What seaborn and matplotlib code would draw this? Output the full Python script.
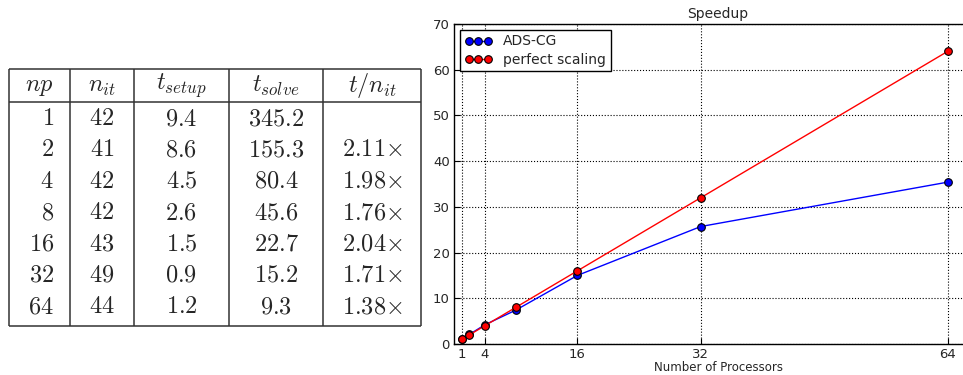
import matplotlib
matplotlib.use('Agg')
import matplotlib.pyplot as plt
import seaborn as sns

# Table data
table_header = [r'$np$', r'$n_{it}$', r'$t_{setup}$', r'$t_{solve}$', r'$t/n_{it}$']
col_np = ['1', '2', '4', '8', '16', '32', '64']
col_nit = ['42', '41', '42', '42', '43', '49', '44']
col_setup = ['9.4', '8.6', '4.5', '2.6', '1.5', '0.9', '1.2']
col_solve = ['345.2', '155.3', '80.4', '45.6', '22.7', '15.2', '9.3']
col_ratio = ['', r'2.11{\times}', r'1.98{\times}', r'1.76{\times}', r'2.04{\times}',
             r'1.71{\times}', r'1.38{\times}']

# Speedup plot data
procs = [1, 2, 4, 8, 16, 32, 64]
speedup_ads = [1.0, 2.1, 4.2, 7.4, 15.0, 25.7, 35.4]
speedup_perfect = [1, 2, 4, 8, 16, 32, 64]
xticks = [1, 4, 16, 32, 64]

sns.set_theme(style='ticks', color_codes=False)
plt.rcParams['font.family'] = ['DejaVu Sans']
plt.rcParams['mathtext.fontset'] = 'cm'
plt.rcParams['xtick.direction'] = 'in'
plt.rcParams['ytick.direction'] = 'in'

fig = plt.figure(figsize=(9.63, 3.75), dpi=100)

# --- table, drawn in pixel coordinates
tab = fig.add_axes([0, 0, 1, 1])
tab.set_xlim(0, 963)
tab.set_ylim(375, 0)
tab.axis('off')

col_edges = [9, 70, 134, 229, 323, 421]
top, head_line, bottom = 69, 102, 326
lc = '#333333'
tab.hlines([top, head_line, bottom], col_edges[0], col_edges[-1], color=lc, lw=1.1)
tab.vlines(col_edges, top, bottom, color=lc, lw=1.1)

fs = 17.5
for j, h in enumerate(table_header):
    cx = (col_edges[j] + col_edges[j + 1]) / 2
    tab.text(cx, 86, h, ha='center', va='center', fontsize=fs)

row_y0, row_dy = 118, 31.4
columns = [col_np, col_nit, col_setup, col_solve, col_ratio]
for j, col in enumerate(columns):
    cx = (col_edges[j] + col_edges[j + 1]) / 2
    for i, v in enumerate(col):
        if not v:
            continue
        y = row_y0 + i * row_dy
        if j == 0:
            tab.text(54, y, '$' + v + '$', ha='right', va='center', fontsize=fs)
        else:
            tab.text(cx, y, '$' + v + '$', ha='center', va='center', fontsize=fs)

# --- speedup plot
ax = fig.add_axes([454 / 963, 31 / 375, (963 - 454) / 963 + 0.02, (344 - 24) / 375])
sns.lineplot(x=procs, y=speedup_ads, ax=ax, color='#0000ff', marker='o', markersize=5.5,
             markeredgecolor='k', markeredgewidth=0.8, lw=1, label='ADS-CG')
sns.lineplot(x=procs, y=speedup_perfect, ax=ax, color='#ff0000', marker='o', markersize=5.5,
             markeredgecolor='k', markeredgewidth=0.8, lw=1, label='perfect scaling')

ax.set_xlim(0, 68.5)
ax.set_ylim(0, 70)
ax.set_xticks(xticks)
ax.set_yticks(range(0, 71, 10))
ax.grid(True, color='k', linestyle=':', linewidth=0.8)
ax.tick_params(labelsize=9.5, length=4, width=0.8, pad=3, color='k')
for s in ax.spines.values():
    s.set_color('k')
    s.set_linewidth(1)
ax.set_title('Speedup', fontsize=10, pad=4)
ax.set_xlabel('Number of Processors', fontsize=8.5, labelpad=0)
ax.set_ylabel('')
leg = ax.legend(loc='upper left', numpoints=3, fancybox=False, edgecolor='k',
                fontsize=10, framealpha=1, borderaxespad=0.4, handlelength=2,
                handletextpad=0.8, borderpad=0.35, labelspacing=0.3)
leg.get_frame().set_linewidth(1)

fig.savefig('out.png', dpi=100)
